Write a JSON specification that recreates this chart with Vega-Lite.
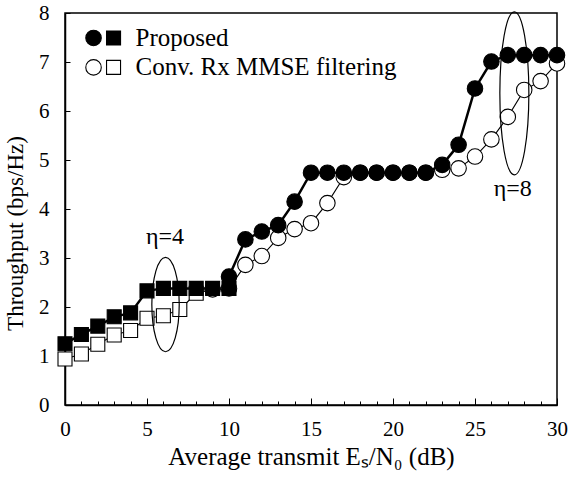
{
  "$schema": "https://vega.github.io/schema/vega-lite/v6.json",
  "autosize": "none",
  "width": 492,
  "height": 392,
  "padding": {"left": 65, "top": 13, "right": 12, "bottom": 75},
  "background": "white",
  "config": {
    "font": "Liberation Serif",
    "view": {"stroke": "black", "strokeWidth": 1.5},
    "axis": {"grid": false, "domainColor": "black", "domainWidth": 1.5, "tickColor": "black", "labelColor": "black", "titleColor": "black", "labelFont": "Liberation Serif", "titleFont": "Liberation Serif", "labelFontSize": 21, "titleFontSize": 25, "titleFontWeight": "normal"}
  },
  "datasets": {
    "curves": [
      {"s": "C", "m": "square", "i": 0, "x": 0, "y": 0.94},
      {"s": "C", "m": "square", "i": 1, "x": 1, "y": 1.04},
      {"s": "C", "m": "square", "i": 2, "x": 2, "y": 1.24},
      {"s": "C", "m": "square", "i": 3, "x": 3, "y": 1.43},
      {"s": "C", "m": "square", "i": 4, "x": 4, "y": 1.52},
      {"s": "C", "m": "square", "i": 5, "x": 5, "y": 1.77},
      {"s": "C", "m": "square", "i": 6, "x": 6, "y": 1.82},
      {"s": "C", "m": "square", "i": 7, "x": 7, "y": 1.95},
      {"s": "C", "m": "square", "i": 8, "x": 8, "y": 2.28},
      {"s": "C", "m": "circle", "i": 9, "x": 9, "y": 2.36},
      {"s": "C", "m": "circle", "i": 10, "x": 10, "y": 2.38},
      {"s": "C", "m": "circle", "i": 11, "x": 11, "y": 2.86},
      {"s": "C", "m": "circle", "i": 12, "x": 12, "y": 3.04},
      {"s": "C", "m": "circle", "i": 13, "x": 13, "y": 3.41},
      {"s": "C", "m": "circle", "i": 14, "x": 14, "y": 3.59},
      {"s": "C", "m": "circle", "i": 15, "x": 15, "y": 3.71},
      {"s": "C", "m": "circle", "i": 16, "x": 16, "y": 4.12},
      {"s": "C", "m": "circle", "i": 17, "x": 17, "y": 4.65},
      {"s": "C", "m": "circle", "i": 18, "x": 18, "y": 4.74},
      {"s": "C", "m": "circle", "i": 19, "x": 19, "y": 4.74},
      {"s": "C", "m": "circle", "i": 20, "x": 20, "y": 4.74},
      {"s": "C", "m": "circle", "i": 21, "x": 21, "y": 4.74},
      {"s": "C", "m": "circle", "i": 22, "x": 22, "y": 4.74},
      {"s": "C", "m": "circle", "i": 23, "x": 23, "y": 4.8},
      {"s": "C", "m": "circle", "i": 24, "x": 24, "y": 4.83},
      {"s": "C", "m": "circle", "i": 25, "x": 25, "y": 5.07},
      {"s": "C", "m": "circle", "i": 26, "x": 26, "y": 5.42},
      {"s": "C", "m": "circle", "i": 27, "x": 27, "y": 5.88},
      {"s": "C", "m": "circle", "i": 28, "x": 28, "y": 6.43},
      {"s": "C", "m": "circle", "i": 29, "x": 29, "y": 6.61},
      {"s": "C", "m": "circle", "i": 30, "x": 30, "y": 6.97},
      {"s": "P", "m": "square", "i": 0, "x": 0, "y": 1.25},
      {"s": "P", "m": "square", "i": 1, "x": 1, "y": 1.44},
      {"s": "P", "m": "square", "i": 2, "x": 2, "y": 1.61},
      {"s": "P", "m": "square", "i": 3, "x": 3, "y": 1.8},
      {"s": "P", "m": "square", "i": 4, "x": 4, "y": 1.88},
      {"s": "P", "m": "square", "i": 5, "x": 5, "y": 2.33},
      {"s": "P", "m": "square", "i": 6, "x": 6, "y": 2.38},
      {"s": "P", "m": "square", "i": 7, "x": 7, "y": 2.38},
      {"s": "P", "m": "square", "i": 8, "x": 8, "y": 2.38},
      {"s": "P", "m": "square", "i": 9, "x": 9, "y": 2.38},
      {"s": "P", "m": "square", "i": 10, "x": 10, "y": 2.38},
      {"s": "P", "m": "circle", "i": 11, "x": 10, "y": 2.62},
      {"s": "P", "m": "circle", "i": 12, "x": 11, "y": 3.38},
      {"s": "P", "m": "circle", "i": 13, "x": 12, "y": 3.54},
      {"s": "P", "m": "circle", "i": 14, "x": 13, "y": 3.67},
      {"s": "P", "m": "circle", "i": 15, "x": 14, "y": 4.15},
      {"s": "P", "m": "circle", "i": 16, "x": 15, "y": 4.74},
      {"s": "P", "m": "circle", "i": 17, "x": 16, "y": 4.74},
      {"s": "P", "m": "circle", "i": 18, "x": 17, "y": 4.74},
      {"s": "P", "m": "circle", "i": 19, "x": 18, "y": 4.74},
      {"s": "P", "m": "circle", "i": 20, "x": 19, "y": 4.74},
      {"s": "P", "m": "circle", "i": 21, "x": 20, "y": 4.74},
      {"s": "P", "m": "circle", "i": 22, "x": 21, "y": 4.74},
      {"s": "P", "m": "circle", "i": 23, "x": 22, "y": 4.74},
      {"s": "P", "m": "circle", "i": 24, "x": 23, "y": 4.9},
      {"s": "P", "m": "circle", "i": 25, "x": 24, "y": 5.31},
      {"s": "P", "m": "circle", "i": 26, "x": 25, "y": 6.46},
      {"s": "P", "m": "circle", "i": 27, "x": 26, "y": 7.01},
      {"s": "P", "m": "circle", "i": 28, "x": 27, "y": 7.14},
      {"s": "P", "m": "circle", "i": 29, "x": 28, "y": 7.14},
      {"s": "P", "m": "circle", "i": 30, "x": 29, "y": 7.14},
      {"s": "P", "m": "circle", "i": 31, "x": 30, "y": 7.14}
    ],
    "legendSymbols": [
      {"s": "P", "m": "circle", "x": 1.74, "y": 7.49},
      {"s": "P", "m": "square", "x": 2.96, "y": 7.49},
      {"s": "C", "m": "circle", "x": 1.74, "y": 6.89},
      {"s": "C", "m": "square", "x": 2.96, "y": 6.89}
    ],
    "legendText": [
      {"label": "Proposed", "x": 4.3, "y": 7.49},
      {"label": "Conv. Rx MMSE filtering", "x": 4.3, "y": 6.89}
    ],
    "eta": [
      {"label": "η=4", "x": 6.1, "y": 3.43},
      {"label": "η=8", "x": 27.3, "y": 4.41}
    ]
  },
  "encoding": {
    "x": {"field": "x", "type": "quantitative", "scale": {"domain": [0, 30], "nice": false},
      "axis": {"values": [0,1,2,3,4,5,6,7,8,9,10,11,12,13,14,15,16,17,18,19,20,21,22,23,24,25,26,27,28,29,30],
        "tickSize": {"condition": {"test": "datum.value % 5 === 0", "value": -7}, "value": -4},
        "labelExpr": "datum.value % 5 === 0 ? datum.label : ''",
        "labelFont": "Liberation Serif", "titleFont": "Liberation Serif",
        "labelPadding": 20, "labelFlush": false,
        "title": "Average transmit Eₛ/N₀ (dB)", "titlePadding": 5}},
    "y": {"field": "y", "type": "quantitative", "scale": {"domain": [0, 8], "nice": false},
      "axis": {"values": [0,1,2,3,4,5,6,7,8], "tickSize": -5, "labelPadding": 21, "labelFlush": false,
        "labelFont": "Liberation Serif", "titleFont": "Liberation Serif", "titleFontSize": 23,
        "title": "Throughput (bps/Hz)", "titlePadding": 11, "titleY": 220}}
  },
  "layer": [
    {
      "data": {"name": "curves"},
      "mark": {"type": "line", "color": "black"},
      "encoding": {
        "detail": {"field": "s"},
        "order": {"field": "i", "type": "quantitative"},
        "strokeWidth": {"field": "s", "type": "nominal", "scale": {"domain": ["P", "C"], "range": [2.5, 1.1]}, "legend": null}
      }
    },
    {
      "data": {"name": "curves"},
      "mark": {"type": "point", "filled": true, "stroke": "black", "strokeWidth": 1.1, "opacity": 1},
      "encoding": {
        "shape": {"field": "m", "type": "nominal", "scale": {"domain": ["circle", "square"], "range": ["circle", "square"]}, "legend": null},
        "fill": {"field": "s", "type": "nominal", "scale": {"domain": ["P", "C"], "range": ["black", "white"]}, "legend": null},
        "size": {"field": "m", "type": "nominal", "scale": {"domain": ["circle", "square"], "range": [240, 196]}, "legend": null}
      }
    },
    {
      "data": {"name": "legendSymbols"},
      "mark": {"type": "point", "filled": true, "stroke": "black", "strokeWidth": 1.1, "opacity": 1},
      "encoding": {
        "shape": {"field": "m", "type": "nominal", "scale": {"domain": ["circle", "square"], "range": ["circle", "square"]}, "legend": null},
        "fill": {"field": "s", "type": "nominal", "scale": {"domain": ["P", "C"], "range": ["black", "white"]}, "legend": null},
        "size": {"field": "m", "type": "nominal", "scale": {"domain": ["circle", "square"], "range": [340, 280]}, "legend": null}
      }
    },
    {
      "data": {"name": "legendText"},
      "mark": {"type": "text", "align": "left", "baseline": "middle", "fontSize": 25, "font": "Liberation Serif", "color": "black"},
      "encoding": {"text": {"field": "label"}}
    },
    {
      "data": {"values": [{"x": 6.13, "y": 2.05}]},
      "mark": {"type": "point", "shape": "M -0.29 0 A 0.29 1 0 1 0 0.29 0 A 0.29 1 0 1 0 -0.29 0 Z", "size": 8911, "filled": false, "stroke": "black", "strokeWidth": 1.2, "opacity": 1}
    },
    {
      "data": {"values": [{"x": 27.4, "y": 6.36}]},
      "mark": {"type": "point", "shape": "M -0.178 0 A 0.178 1 0 1 0 0.178 0 A 0.178 1 0 1 0 -0.178 0 Z", "size": 26569, "filled": false, "stroke": "black", "strokeWidth": 1.2, "opacity": 1}
    },
    {
      "data": {"name": "eta"},
      "mark": {"type": "text", "align": "center", "baseline": "middle", "fontSize": 24, "font": "Liberation Serif", "color": "black"},
      "encoding": {"text": {"field": "label"}}
    }
  ]
}
